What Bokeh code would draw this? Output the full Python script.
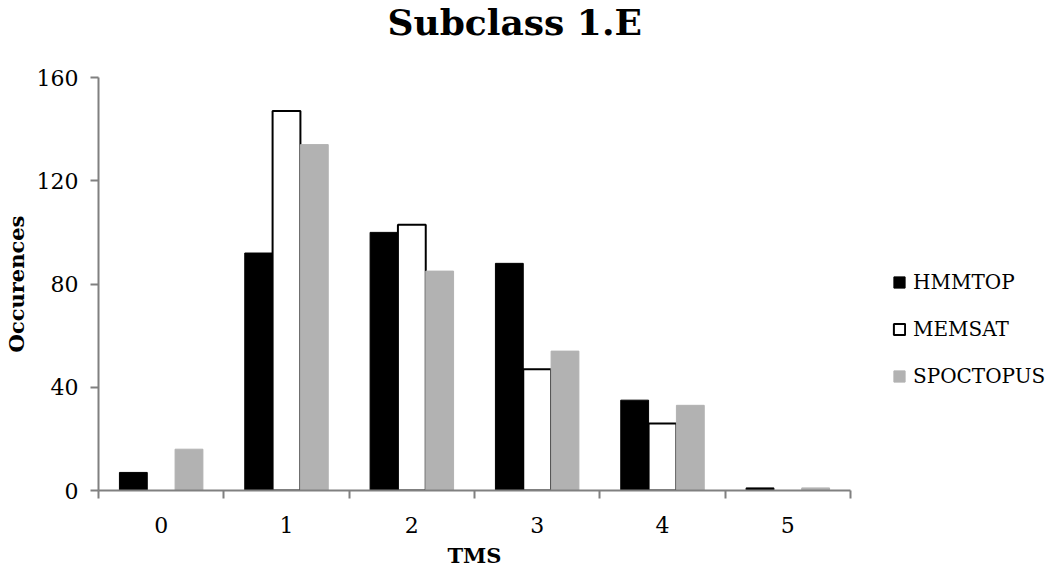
from bokeh.plotting import figure
from bokeh.models import ColumnDataSource, FixedTicker, Legend, LegendItem, Title
from bokeh.transform import dodge
from bokeh.embed import file_html
from bokeh.resources import INLINE

tms = [0, 1, 2, 3, 4, 5]
tick_labels = ["0", "1", "2", "3", "4", "5"]
hmmtop = [7, 92, 100, 88, 35, 1]
memsat = [0, 147, 103, 47, 26, 0]
spoctopus = [16, 134, 85, 54, 33, 1]

src = ColumnDataSource(dict(
    x=tms, hmmtop=hmmtop, memsat=memsat, spoctopus=spoctopus,
    memsat_line=[1 if v > 0 else 0 for v in memsat],
))

FONT = "DejaVu Serif"

p = figure(frame_width=752, frame_height=413, x_range=(-0.5, 5.5), y_range=(0, 160),
           output_backend="svg", toolbar_location=None,
           min_border_left=90, min_border_right=184, min_border_top=69,
           min_border_bottom=73)
p.background_fill_color = "white"
p.border_fill_color = "white"
p.outline_line_color = None
p.grid.grid_line_color = None

bw = 0.222
r1 = p.vbar(x=dodge("x", -bw, range=p.x_range), top="hmmtop", width=bw, source=src,
            fill_color="black", line_color="black", line_width=1)
r2 = p.vbar(x=dodge("x", 0, range=p.x_range), top="memsat", width=bw, source=src,
            fill_color="white", line_color="black", line_width=2, line_alpha="memsat_line")
r3 = p.vbar(x=dodge("x", bw, range=p.x_range), top="spoctopus", width=bw, source=src,
            fill_color="#b2b2b2", line_color="#b2b2b2", line_width=1)

# axes
xa = p.xaxis[0]
xa.ticker = FixedTicker(ticks=tms, minor_ticks=[t - 0.5 for t in tms] + [5.5])
xa.major_label_overrides = {t: l for t, l in zip(tms, tick_labels)}
xa.major_tick_out = 0
xa.major_tick_in = 0
xa.minor_tick_out = 8
xa.minor_tick_in = 0
xa.minor_tick_line_color = "#808080"
xa.minor_tick_line_width = 2
xa.axis_label = "TMS"
xa.major_label_standoff = 18

ya = p.yaxis[0]
ya.ticker = FixedTicker(ticks=[0, 40, 80, 120, 160])
ya.minor_tick_line_color = None
ya.major_tick_out = 8
ya.major_tick_in = 0
ya.major_label_standoff = 12
ya.axis_label = "Occurences"

for ax in (xa, ya):
    ax.axis_line_color = "#808080"
    ax.axis_line_width = 2
    ax.major_tick_line_color = "#808080"
    ax.major_tick_line_width = 2
    ax.major_label_text_font = FONT
    ax.major_label_text_font_size = "22px"
    ax.major_label_text_color = "black"
    ax.axis_label_text_font = FONT
    ax.axis_label_text_font_style = "bold"
    ax.axis_label_text_font_size = "21px"
    ax.axis_label_text_color = "black"
xa.axis_label_standoff = 7
ya.axis_label_standoff = 5

p.title.text = "Subclass 1.E"
p.title.text_font = FONT
p.title.text_font_style = "bold"
p.title.text_font_size = "36px"
p.title.text_color = "black"
p.title.align = "left"
p.title.vertical_align = "top"
p.title.offset = 289
p.title.standoff = 0

# invisible spacer between the title and the plot frame
spacer = Title(text=" ", text_font_size="20px", standoff=9, text_color="white")
p.add_layout(spacer, "above")

legend = Legend(items=[
    LegendItem(label="HMMTOP", renderers=[r1], index=1),
    LegendItem(label="MEMSAT", renderers=[r2], index=1),
    LegendItem(label="SPOCTOPUS", renderers=[r3], index=1),
], location=(42, 102))
legend.border_line_color = None
legend.background_fill_alpha = 0
legend.padding = 0
legend.margin = 0
legend.spacing = 23
legend.glyph_width = 14
legend.glyph_height = 14
legend.label_height = 20
legend.label_standoff = 7
legend.label_text_font = FONT
legend.label_text_font_size = "20px"
legend.label_text_color = "black"
p.add_layout(legend, "right")

open("out.html", "w").write(file_html(p, INLINE))
